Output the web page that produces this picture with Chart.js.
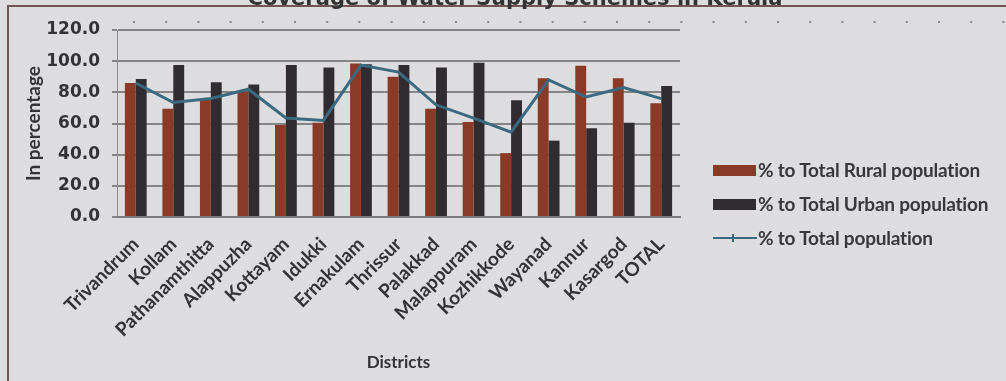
<!DOCTYPE html>
<html>
<head>
<meta charset="utf-8">
<script src="https://cdn.jsdelivr.net/npm/chart.js@4.4.0/dist/chart.umd.min.js"></script>
<style>
  body { margin: 0; background: #dddcde; }
  #wrap { position: relative; width: 1006px; height: 381px; overflow: hidden; }
  #legend { position: absolute; left: 713px; top: 159px; font: bold 19px Lato, sans-serif; color: #38383a; letter-spacing: -0.2px; }
  .item { position: relative; height: 34px; line-height: 22px; padding-left: 45px; white-space: nowrap; }
  .sw { position: absolute; left: 0; top: 6px; width: 43px; height: 11px; }
  .ln { position: absolute; left: 0; top: 10px; width: 44px; height: 2px; }
  .mk { position: absolute; left: 19px; top: -3px; width: 6px; height: 8px; border-left: 2px solid; }
</style>
</head>
<body>
<div id="wrap">
  <canvas id="myChart" width="1006" height="381"></canvas>
  <div id="legend"></div>
</div>
<script>
var districts = ["Trivandrum", "Kollam", "Pathanamthitta", "Alappuzha", "Kottayam", "Idukki", "Ernakulam",
  "Thrissur", "Palakkad", "Malappuram", "Kozhikkode", "Wayanad", "Kannur", "Kasargod", "TOTAL"];
var ruralPct = [86, 69.5, 76, 80.5, 59, 60.5, 98.5, 90, 69.5, 61, 41, 89, 97, 89, 73];
var urbanPct = [88.5, 97.5, 86.5, 85, 97.5, 96, 98, 97.5, 96, 99, 75, 49, 57, 60.5, 84];
var totalPct = [86, 73.5, 76, 82, 63.5, 62, 97.5, 93, 72, 63.5, 54.5, 88, 77, 83, 76];
var yTicks = [0, 20, 40, 60, 80, 100, 120];

var ruralColor = '#8a3b28';
var urbanColor = '#302c2f';
var totalColor = '#3b6a80';

// frame, dotted rule and the clipped title drawn straight on the canvas
var decorations = {
  id: 'decorations',
  beforeDraw: function(chart) {
    var ctx = chart.ctx;
    ctx.save();
    ctx.fillStyle = '#dddcde';
    ctx.fillRect(0, 0, chart.width, chart.height);
    ctx.strokeStyle = '#6e5652';
    ctx.lineWidth = 2;
    ctx.beginPath();
    ctx.moveTo(8, 381);
    ctx.lineTo(8, 6);
    ctx.lineTo(1006, 6);
    ctx.stroke();
    ctx.fillStyle = '#8a8a8c';
    for (var x = 133; x < 1006; x += 32.2) {
      ctx.fillRect(x, 21, 2, 2);
    }
    ctx.restore();
  },
  afterDraw: function(chart) {
    var ctx = chart.ctx;
    ctx.save();
    ctx.fillStyle = '#333335';
    ctx.font = 'bold 21px "DejaVu Sans"';
    ctx.textAlign = 'center';
    ctx.textBaseline = 'alphabetic';
    ctx.fillText('Coverage of Water Supply Schemes in Kerala', 515, 5);
    ctx.restore();
  }
};

var ctx = document.getElementById('myChart').getContext('2d');
var chart = new Chart(ctx, {
  type: 'bar',
  data: {
    labels: districts,
    datasets: [{
      label: '% to Total Rural population',
      data: ruralPct,
      backgroundColor: ruralColor,
      order: 2
    }, {
      label: '% to Total Urban population',
      data: urbanPct,
      backgroundColor: urbanColor,
      order: 2
    }, {
      type: 'line',
      label: '% to Total population',
      data: totalPct,
      borderColor: totalColor,
      backgroundColor: totalColor,
      borderWidth: 3,
      pointRadius: 0,
      tension: 0,
      order: 1
    }]
  },
  options: {
    responsive: false,
    animation: false,
    layout: { padding: { left: 22, right: 326, top: 30, bottom: 8 } },
    datasets: { bar: { categoryPercentage: 0.58, barPercentage: 1 } },
    plugins: {
      legend: { display: false },
      tooltip: { enabled: false }
    },
    scales: {
      x: {
        afterFit: function(axis) { axis.height = 156; },
        grid: { display: false },
        border: { color: '#7a7a7a', width: 2 },
        title: {
          display: true, text: 'Districts', color: '#333335', padding: { top: 0, bottom: 0 },
          font: { family: 'Lato', weight: 'bold', size: 17 }
        },
        ticks: {
          minRotation: 45, maxRotation: 45, padding: 8,
          color: '#333335',
          font: { family: 'Lato', weight: 'bold', size: 19 }
        }
      },
      y: {
        min: 0, max: 120,
        afterFit: function(axis) { axis.width = 95; },
        afterBuildTicks: function(axis) {
          axis.ticks = yTicks.map(function(v) { return { value: v }; });
        },
        grid: { color: '#858585', lineWidth: 2, tickLength: 5 },
        border: { color: '#8a8a8a', width: 1 },
        title: {
          display: true, text: 'In percentage', color: '#333335', padding: { top: 0, bottom: 4 },
          font: { family: 'Lato', weight: 'bold', size: 19 }
        },
        ticks: {
          padding: 12,
          color: '#333335',
          font: { family: 'DejaVu Sans', weight: 'bold', size: 17 },
          callback: function(v) { return Number(v).toFixed(1); }
        }
      }
    }
  },
  plugins: [decorations]
});

// legend built from the dataset settings
var legend = document.getElementById('legend');
chart.data.datasets.forEach(function(ds) {
  var item = document.createElement('div');
  item.className = 'item';
  if (ds.type === 'line') {
    item.innerHTML = '<span class="ln" style="background:' + ds.borderColor + '"><span class="mk" style="border-color:' +
      ds.borderColor + '"></span></span>' + ds.label;
  } else {
    item.innerHTML = '<span class="sw" style="background:' + ds.backgroundColor + '"></span>' + ds.label;
  }
  legend.appendChild(item);
});
</script>
</body>
</html>
